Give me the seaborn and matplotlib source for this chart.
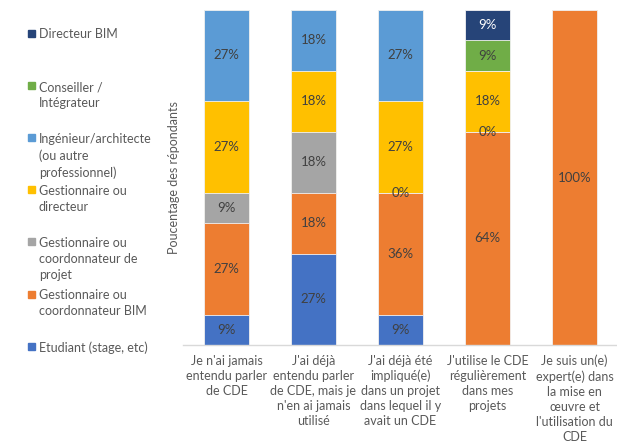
import numpy as np
import pandas as pd
import matplotlib
matplotlib.use("Agg")
import matplotlib.pyplot as plt
import seaborn as sns
from matplotlib.patches import Rectangle

# categories (x axis)
categories = [
    "Je n'ai jamais\nentendu parler\nde CDE",
    "J'ai déjà\nentendu parler\nde CDE, mais je\nn'en ai jamais\nutilisé",
    "J'ai déjà été\nimpliqué(e)\ndans un projet\ndans lequel il y\navait un CDE",
    "J'utilise le CDE\nrégulièrement\ndans mes\nprojets",
    "Je suis un(e)\nexpert(e) dans\nla mise en\nœuvre et\nl'utilisation du\nCDE",
]

# series, bottom to top (NaN = empty cell, no label)
series_names = [
    "Etudiant (stage, etc)",
    "Gestionnaire ou\ncoordonnateur BIM",
    "Gestionnaire ou\ncoordonnateur de\nprojet",
    "Gestionnaire ou\ndirecteur",
    "Ingénieur/architecte\n(ou autre\nprofessionnel)",
    "Conseiller /\nIntégrateur",
    "Directeur BIM",
]
nan = np.nan
etudiant = [9.1, 27.3, 9.1, nan, nan]
gest_bim = [27.3, 18.2, 36.4, 63.6, 100.0]
gest_projet = [9.1, 18.2, 0.0, 0.0, nan]
gest_dir = [27.3, 18.2, 27.3, 18.2, nan]
ingenieur = [27.3, 18.2, 27.3, nan, nan]
conseiller = [nan, nan, nan, 9.1, nan]
dir_bim = [nan, nan, nan, 9.1, nan]

colors = ["#4472C4", "#ED7D31", "#A5A5A5", "#FFC000", "#5B9BD5", "#70AD47", "#264478"]

values = [etudiant, gest_bim, gest_projet, gest_dir, ingenieur, conseiller, dir_bim]
df = pd.DataFrame(values, index=series_names, columns=range(len(categories))).T
cum = df.fillna(0).cumsum(axis=1)

sns.set_theme(style="white")
plt.rcParams["font.family"] = ["Lato", "DejaVu Sans"]

fig = plt.figure(figsize=(6.17, 4.48), dpi=100)
W, H = 617, 448
ax = fig.add_axes([183 / W, (H - 345) / H, 435 / W, 335 / H])

# draw from the top series down so each lower cumulative bar covers the rest
for i in range(len(series_names) - 1, -1, -1):
    d = pd.DataFrame({"cat": range(len(categories)), "val": cum.iloc[:, i]})
    sns.barplot(data=d, x="cat", y="val", color=colors[i], width=0.52,
                saturation=1, ax=ax, order=range(len(categories)),
                edgecolor="#F2F2F2", linewidth=0.6)

# data labels
for i, name in enumerate(series_names):
    for j in range(len(categories)):
        v = df.iloc[j, i]
        if np.isnan(v):
            continue
        top = cum.iloc[j, i]
        y = top - v / 2
        col = "white" if i == 6 else "#404040"
        ax.text(j, y, f"{round(v)}%", ha="center", va="center",
                fontsize=9.5, color=col)

ax.set_ylim(0, 100)
ax.set_xlim(-0.5, 4.5)
ax.set_yticks([])
ax.set_xticks(range(len(categories)))
ax.set_xticklabels(categories, fontsize=9, color="#595959", linespacing=1.3)
ax.tick_params(axis="x", length=0, pad=7)
ax.set_xlabel("")
ax.set_ylabel("Poucentage des répondants", fontsize=9, color="#595959")
ax.yaxis.set_label_coords(-0.006, 0.5)
for s in ["top", "right", "left"]:
    ax.spines[s].set_visible(False)
ax.spines["bottom"].set_color("#D9D9D9")
ax.spines["bottom"].set_linewidth(1)

# legend on the left, top entry first
square_y = [33.5, 86, 138, 190, 242, 294, 346]
for k, i in enumerate(range(len(series_names) - 1, -1, -1)):
    yc = square_y[k]
    fig.add_artist(Rectangle((28 / W, 1 - (yc + 3.5) / H), 7 / W, 7 / H,
                             transform=fig.transFigure, color=colors[i]))
    fig.text(39 / W, 1 - (yc - 5) / H, series_names[i], ha="left", va="top",
             fontsize=9, color="#595959", linespacing=1.4)

fig.savefig("out.png", dpi=100)
